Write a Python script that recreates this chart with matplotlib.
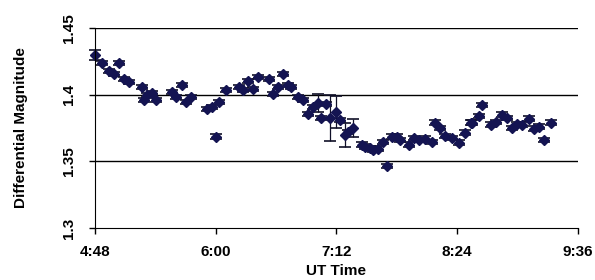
import matplotlib
matplotlib.use('Agg')
import matplotlib.pyplot as plt
from matplotlib.ticker import FuncFormatter, MultipleLocator
import numpy as np

# UT times and differential magnitudes
times = ['4:48', '4:52', '4:56', '4:59', '5:02', '5:05', '5:08', '5:16', '5:17', '5:19',
         '5:22', '5:24', '5:34', '5:36', '5:40', '5:42', '5:45', '5:55', '5:58', '6:00',
         '6:02', '6:06', '6:14', '6:16', '6:19', '6:22', '6:25', '6:32', '6:34', '6:37',
         '6:40', '6:43', '6:45', '6:49', '6:52', '6:55', '6:58', '7:01', '7:03', '7:06',
         '7:08', '7:12', '7:14', '7:17', '7:19', '7:22', '7:27', '7:29', '7:32', '7:34',
         '7:37', '7:40', '7:42', '7:45', '7:48', '7:50', '7:55', '7:58', '8:01', '8:05',
         '8:09', '8:11', '8:14', '8:17', '8:21', '8:25', '8:29', '8:32', '8:33', '8:37',
         '8:39', '8:44', '8:47', '8:51', '8:54', '8:57', '9:00', '9:03', '9:07', '9:10',
         '9:13', '9:16', '9:20']
mags = [1.4298, 1.4238, 1.4178, 1.4155, 1.4238, 1.4118, 1.4095, 1.4058, 1.3960, 1.3998,
        1.4013, 1.3960, 1.4020, 1.3983, 1.4073, 1.3945, 1.3983, 1.3893, 1.3908, 1.3683,
        1.3945, 1.4035, 1.4058, 1.4035, 1.4103, 1.4043, 1.4133, 1.4118, 1.4005, 1.4058,
        1.4155, 1.4073, 1.4058, 1.3983, 1.3960, 1.3855, 1.3908, 1.3938, 1.3825, 1.3930,
        1.3825, 1.3870, 1.3810, 1.3698, 1.3720, 1.3750, 1.3623, 1.3608, 1.3600, 1.3585,
        1.3593, 1.3645, 1.3465, 1.3683, 1.3683, 1.3660, 1.3623, 1.3675, 1.3660, 1.3668,
        1.3645, 1.3788, 1.3750, 1.3690, 1.3675, 1.3638, 1.3713, 1.3788, 1.3788, 1.3840,
        1.3923, 1.3773, 1.3795, 1.3848, 1.3825, 1.3750, 1.3780, 1.3773, 1.3818, 1.3743,
        1.3758, 1.3660, 1.3788]
errs = [0.004] + [0.0018] * 36 + [0.007, 0.0018, 0.0018, 0.017, 0.012, 0.0018, 0.009,
                                  0.0018, 0.007] + [0.0018] * 37

def to_min(s):
    h, m = s.split(':')
    return int(h) * 60 + int(m)

t = np.array([to_min(s) for s in times])

plt.rcParams['font.family'] = ['Liberation Sans Narrow', 'Liberation Sans', 'DejaVu Sans']
plt.rcParams['font.weight'] = 'bold'

fig = plt.figure(figsize=(5.95, 2.8), dpi=100)
ax = fig.add_axes((0.16, 0.186, 0.811, 0.714))

ax.errorbar(t, mags, yerr=errs, fmt='D', color='#141452', markersize=5.5,
            ecolor='#101028', elinewidth=0.9, capsize=4, capthick=1.2, clip_on=False)

ax.set_xlim(288, 576)
ax.set_ylim(1.3, 1.45)
ax.xaxis.set_major_locator(MultipleLocator(72))
ax.yaxis.set_major_locator(MultipleLocator(0.05))
ax.xaxis.set_major_formatter(FuncFormatter(lambda v, p: '%d:%02d' % (int(v) // 60, int(v) % 60)))
ax.yaxis.set_major_formatter(FuncFormatter(lambda v, p: ('%.2f' % v).rstrip('0').rstrip('.')))

for yv in [1.35, 1.4, 1.45]:
    ax.axhline(yv, color='black', linewidth=1.0, zorder=0)

ax.spines['top'].set_visible(False)
ax.spines['right'].set_visible(False)
ax.tick_params(axis='both', direction='out', length=4, width=1, labelsize=11)
for lab in ax.get_yticklabels():
    lab.set_rotation(90)
    lab.set_va('center')
ax.tick_params(axis='y', pad=10)
ax.tick_params(axis='x', pad=8)

ax.set_ylabel('Differential Magnitude', fontsize=11, fontweight='bold', labelpad=24)
ax.set_xlabel('UT Time', fontsize=11, fontweight='bold', labelpad=4)

fig.savefig('out.png', dpi=100)
